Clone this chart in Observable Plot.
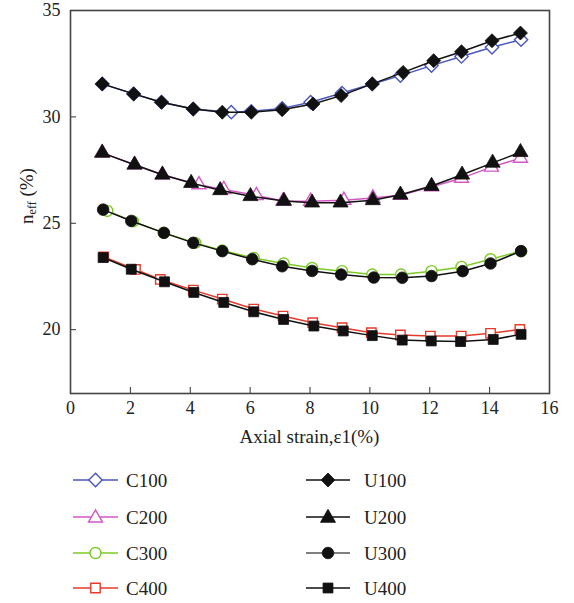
<!DOCTYPE html>
<html><head><meta charset="utf-8">
<script src="https://cdn.jsdelivr.net/npm/d3@7"></script>
<script src="https://cdn.jsdelivr.net/npm/@observablehq/plot@0.6"></script>
<style>
body{margin:0;background:#fff;}
#chart{position:relative;width:574px;height:603px;font-family:"Liberation Serif",serif;}
#chart svg{display:block;}
</style></head><body><div id="chart"></div>
<script>
// Axis ticks
const xTicks = [0, 2, 4, 6, 8, 10, 12, 14, 16];
const yTicks = [20, 25, 30, 35];

// Series (axial strain %, n_eff %)
const c100X = [1.06, 2.11, 3.04, 4.1, 5.37, 6.04, 7.07, 8.02, 9.07, 10.08, 11.02, 12.06, 13.06, 14.08, 15.05];
const c100Y = [31.55, 31.08, 30.69, 30.37, 30.22, 30.26, 30.4, 30.69, 31.12, 31.55, 31.94, 32.41, 32.84, 33.27, 33.63];
const u100X = [1.06, 2.11, 3.04, 4.1, 5.07, 6.04, 7.07, 8.1, 9.04, 10.08, 11.11, 12.13, 13.06, 14.08, 15.03];
const u100Y = [31.55, 31.08, 30.69, 30.37, 30.22, 30.22, 30.34, 30.61, 31.0, 31.55, 32.09, 32.64, 33.06, 33.58, 33.94];

const c200X = [1.06, 2.14, 3.07, 4.29, 5.12, 6.21, 7.1, 8.02, 9.13, 10.1, 11.02, 12.06, 13.06, 14.06, 15.03];
const c200Y = [28.31, 27.75, 27.28, 26.81, 26.59, 26.31, 26.05, 26.03, 26.08, 26.19, 26.32, 26.72, 27.12, 27.64, 28.06];
const u200X = [1.06, 2.14, 3.07, 4.03, 5.0, 6.01, 7.13, 8.07, 9.02, 10.1, 11.02, 12.06, 13.08, 14.1, 15.03];
const u200Y = [28.31, 27.75, 27.28, 26.89, 26.55, 26.27, 26.05, 25.97, 25.97, 26.08, 26.34, 26.75, 27.28, 27.84, 28.34];

const c300X = [1.23, 2.09, 3.12, 4.17, 5.07, 6.12, 7.12, 8.07, 9.07, 10.08, 11.04, 12.06, 13.06, 14.03, 15.05];
const c300Y = [25.58, 25.09, 24.55, 24.08, 23.72, 23.37, 23.11, 22.9, 22.75, 22.59, 22.59, 22.75, 22.95, 23.31, 23.69];
const u300X = [1.09, 2.03, 3.12, 4.1, 5.07, 6.07, 7.07, 8.07, 9.04, 10.13, 11.08, 12.06, 13.1, 14.03, 15.05];
const u300Y = [25.64, 25.11, 24.55, 24.08, 23.69, 23.31, 22.98, 22.76, 22.59, 22.45, 22.44, 22.52, 22.75, 23.11, 23.69];

const c400X = [1.11, 2.17, 3.0, 4.1, 5.07, 6.12, 7.1, 8.09, 9.07, 10.05, 11.02, 12.02, 13.05, 14.03, 15.01];
const c400Y = [23.42, 22.83, 22.36, 21.86, 21.44, 20.97, 20.64, 20.33, 20.09, 19.86, 19.75, 19.7, 19.7, 19.83, 20.01];
const u400X = [1.09, 2.03, 3.14, 4.12, 5.12, 6.12, 7.12, 8.13, 9.11, 10.08, 11.08, 12.05, 13.03, 14.12, 15.05];
const u400Y = [23.39, 22.84, 22.25, 21.75, 21.28, 20.84, 20.48, 20.17, 19.94, 19.72, 19.51, 19.47, 19.44, 19.54, 19.78];

const seriesNames = ["C100", "C200", "C300", "C400", "U100", "U200", "U300", "U400"];

const series = [
  {name: "C100", x: c100X, y: c100Y, color: "#4a57bd", symbol: "diamond2", r: 6, filled: false},
  {name: "C200", x: c200X, y: c200Y, color: "#d458c4", symbol: "triangle", r: 5.2, filled: false},
  {name: "C300", x: c300X, y: c300Y, color: "#7ccb24", symbol: "circle", r: 5.5, filled: false},
  {name: "C400", x: c400X, y: c400Y, color: "#e63a2b", symbol: "square", r: 5.3, filled: false},
  {name: "U100", x: u100X, y: u100Y, color: "#111111", symbol: "diamond2", r: 6.3, filled: true},
  {name: "U200", x: u200X, y: u200Y, color: "#111111", symbol: "triangle", r: 5.6, filled: true},
  {name: "U300", x: u300X, y: u300Y, color: "#111111", symbol: "circle", r: 5.8, filled: true},
  {name: "U400", x: u400X, y: u400Y, color: "#111111", symbol: "square", r: 5.6, filled: true}
];

const marks = [];
for (const s of series) {
  const rows = s.x.map((x, i) => ({x, y: s.y[i]}));
  marks.push(Plot.line(rows, {x: "x", y: "y", stroke: s.color, strokeWidth: 1.5}));
  marks.push(Plot.dot(rows, {x: "x", y: "y", symbol: s.symbol, r: s.r,
    fill: s.filled ? s.color : "white", stroke: s.color, strokeWidth: s.filled ? 0.8 : 1.4}));
}

const plot = Plot.plot({
  width: 574,
  height: 450,
  marginLeft: 70,
  marginRight: 25,
  marginTop: 10,
  marginBottom: 57,
  style: {fontFamily: "'Liberation Serif', serif", fontSize: "18px", color: "#222", background: "white"},
  x: {domain: [0, 16]},
  y: {domain: [17, 35]},
  marks: [
    Plot.axisX({ticks: xTicks, tickSize: -6, tickPadding: 14, label: null, stroke: "#333", fontSize: 18}),
    Plot.axisY({ticks: yTicks, tickSize: -6, tickPadding: 16, label: null, stroke: "#333", fontSize: 18}),
    ...marks,
    Plot.frame({stroke: "#444", strokeWidth: 1.6})
  ]
});

const chart = document.getElementById("chart");
chart.appendChild(plot);

// Axis titles
const svg = d3.select(plot);
svg.append("text")
  .attr("x", 309.5).attr("y", 443)
  .attr("text-anchor", "middle")
  .style("font-family", "'Liberation Serif', serif")
  .style("font-size", "19px").attr("fill", "#222")
  .text("Axial strain,ε1(%)");
const yl = svg.append("text")
  .attr("transform", "translate(33,196) rotate(-90)")
  .attr("text-anchor", "middle")
  .style("font-family", "'Liberation Serif', serif")
  .style("font-size", "19px").attr("fill", "#222");
yl.append("tspan").text("n");
yl.append("tspan").attr("font-size", "12px").attr("dy", "3").text("eff");
yl.append("tspan").attr("dy", "-3").text(" (%)");

// Legend
const legendRows = [480, 517, 553, 588];
const colLineX = [[73, 118], [306, 350]];
const colTextX = [126, 364];
const leg = d3.select(chart).append("svg")
  .attr("width", 574).attr("height", 153)
  .style("position", "absolute").style("left", "0px").style("top", "450px");
series.forEach((s, i) => {
  const col = i < 4 ? 0 : 1;
  const row = i % 4;
  const cy = legendRows[row] - 450;
  const [x0, x1] = colLineX[col];
  const cx = (x0 + x1) / 2;
  leg.append("line").attr("x1", x0).attr("x2", x1).attr("y1", cy).attr("y2", cy)
    .attr("stroke", s.name === "U300" ? "#555" : s.color).attr("stroke-width", 1.5);
  const symMap = {diamond2: d3.symbolDiamond2, triangle: d3.symbolTriangle, circle: d3.symbolCircle, square: d3.symbolSquare};
  const sym = d3.symbol(symMap[s.symbol], Math.PI * s.r * s.r)();
  leg.append("path").attr("d", sym)
    .attr("transform", `translate(${cx},${cy + (s.symbol === "triangle" ? 1 : 0)})`)
    .attr("fill", s.filled ? s.color : "white")
    .attr("stroke", s.color).attr("stroke-width", s.filled ? 0.8 : 1.4);
  leg.append("text").attr("x", colTextX[col]).attr("y", cy).attr("dy", "0.35em")
    .style("font-family", "'Liberation Serif', serif").style("font-size", "19px")
    .attr("fill", "#222").text(s.name);
});
</script>
</body></html>
